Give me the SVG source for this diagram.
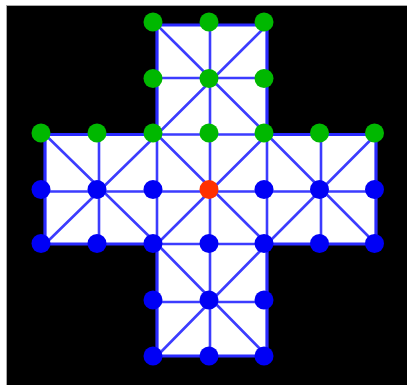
<svg xmlns="http://www.w3.org/2000/svg" width="407" height="385" viewBox="0 0 407 385">
<style>
.ln{stroke:#3c3cff;stroke-width:2.6;fill:none;stroke-linecap:round}
.edge{stroke:#2a2aff;stroke-width:3.2;fill:#ffffff;stroke-linejoin:miter}
.g{fill:#00b800}
.b{fill:#0000f5}
.r{fill:#ff3000}
</style>
<rect x="0" y="0" width="407" height="385" fill="#ffffff"/>
<rect x="6.5" y="5.5" width="402" height="381" fill="#000000" stroke="#a8a8a8" stroke-width="1"/>
<g id="board">
<polygon class="edge" points="157,25 267,25 267,134.5 376,134.5 376,244 267,244 267,356 157,356 157,244 45,244 45,134.5 157,134.5"/>
</g>
<g id="connectors">
<line class="ln" x1="157" y1="78" x2="267" y2="78"/>
<line class="ln" x1="45" y1="191.5" x2="376" y2="191.5"/>
<line class="ln" x1="157" y1="134.5" x2="267" y2="134.5"/>
<line class="ln" x1="157" y1="244" x2="267" y2="244"/>
<line class="ln" x1="157" y1="302" x2="267" y2="302"/>
<line class="ln" x1="99" y1="134.5" x2="99" y2="244"/>
<line class="ln" x1="321" y1="134.5" x2="321" y2="244"/>
<line class="ln" x1="210" y1="25" x2="210" y2="356"/>
<line class="ln" x1="157" y1="134.5" x2="157" y2="244"/>
<line class="ln" x1="267" y1="134.5" x2="267" y2="244"/>
<line class="ln" x1="157" y1="25" x2="267" y2="134.5"/>
<line class="ln" x1="267" y1="25" x2="157" y2="134.5"/>
<line class="ln" x1="45" y1="134.5" x2="157" y2="244"/>
<line class="ln" x1="157" y1="134.5" x2="45" y2="244"/>
<line class="ln" x1="157" y1="134.5" x2="267" y2="244"/>
<line class="ln" x1="267" y1="134.5" x2="157" y2="244"/>
<line class="ln" x1="267" y1="134.5" x2="376" y2="244"/>
<line class="ln" x1="376" y1="134.5" x2="267" y2="244"/>
<line class="ln" x1="157" y1="244" x2="267" y2="356"/>
<line class="ln" x1="267" y1="244" x2="157" y2="356"/>
</g>
<g id="nodes">
<g id="n-2-0"><circle class="g" cx="153" cy="22" r="9.5"/></g>
<g id="n-3-0"><circle class="g" cx="209" cy="22" r="9.5"/></g>
<g id="n-4-0"><circle class="g" cx="264" cy="22" r="9.5"/></g>
<g id="n-2-1"><circle class="g" cx="153" cy="78.5" r="9.5"/></g>
<g id="n-3-1"><circle class="g" cx="209" cy="78.5" r="9.5"/></g>
<g id="n-4-1"><circle class="g" cx="264" cy="78.5" r="9.5"/></g>
<g id="n-0-2"><circle class="g" cx="41" cy="133" r="9.5"/></g>
<g id="n-1-2"><circle class="g" cx="97" cy="133" r="9.5"/></g>
<g id="n-2-2"><circle class="g" cx="153" cy="133" r="9.5"/></g>
<g id="n-3-2"><circle class="g" cx="209" cy="133" r="9.5"/></g>
<g id="n-4-2"><circle class="g" cx="264" cy="133" r="9.5"/></g>
<g id="n-5-2"><circle class="g" cx="319.5" cy="133" r="9.5"/></g>
<g id="n-6-2"><circle class="g" cx="374.5" cy="133" r="9.5"/></g>
<g id="n-0-3"><circle class="b" cx="41" cy="189.5" r="9.5"/></g>
<g id="n-1-3"><circle class="b" cx="97" cy="189.5" r="9.5"/></g>
<g id="n-2-3"><circle class="b" cx="153" cy="189.5" r="9.5"/></g>
<g id="n-3-3"><circle class="r" cx="209" cy="189.5" r="9.5"/></g>
<g id="n-4-3"><circle class="b" cx="264" cy="189.5" r="9.5"/></g>
<g id="n-5-3"><circle class="b" cx="319.5" cy="189.5" r="9.5"/></g>
<g id="n-6-3"><circle class="b" cx="374.5" cy="189.5" r="9.5"/></g>
<g id="n-0-4"><circle class="b" cx="41" cy="243.5" r="9.5"/></g>
<g id="n-1-4"><circle class="b" cx="97" cy="243.5" r="9.5"/></g>
<g id="n-2-4"><circle class="b" cx="153" cy="243.5" r="9.5"/></g>
<g id="n-3-4"><circle class="b" cx="209" cy="243.5" r="9.5"/></g>
<g id="n-4-4"><circle class="b" cx="264" cy="243.5" r="9.5"/></g>
<g id="n-5-4"><circle class="b" cx="319.5" cy="243.5" r="9.5"/></g>
<g id="n-6-4"><circle class="b" cx="374.5" cy="243.5" r="9.5"/></g>
<g id="n-2-5"><circle class="b" cx="153" cy="300" r="9.5"/></g>
<g id="n-3-5"><circle class="b" cx="209" cy="300" r="9.5"/></g>
<g id="n-4-5"><circle class="b" cx="264" cy="300" r="9.5"/></g>
<g id="n-2-6"><circle class="b" cx="153" cy="356" r="9.5"/></g>
<g id="n-3-6"><circle class="b" cx="209" cy="356" r="9.5"/></g>
<g id="n-4-6"><circle class="b" cx="264" cy="356" r="9.5"/></g>
</g>
</svg>
